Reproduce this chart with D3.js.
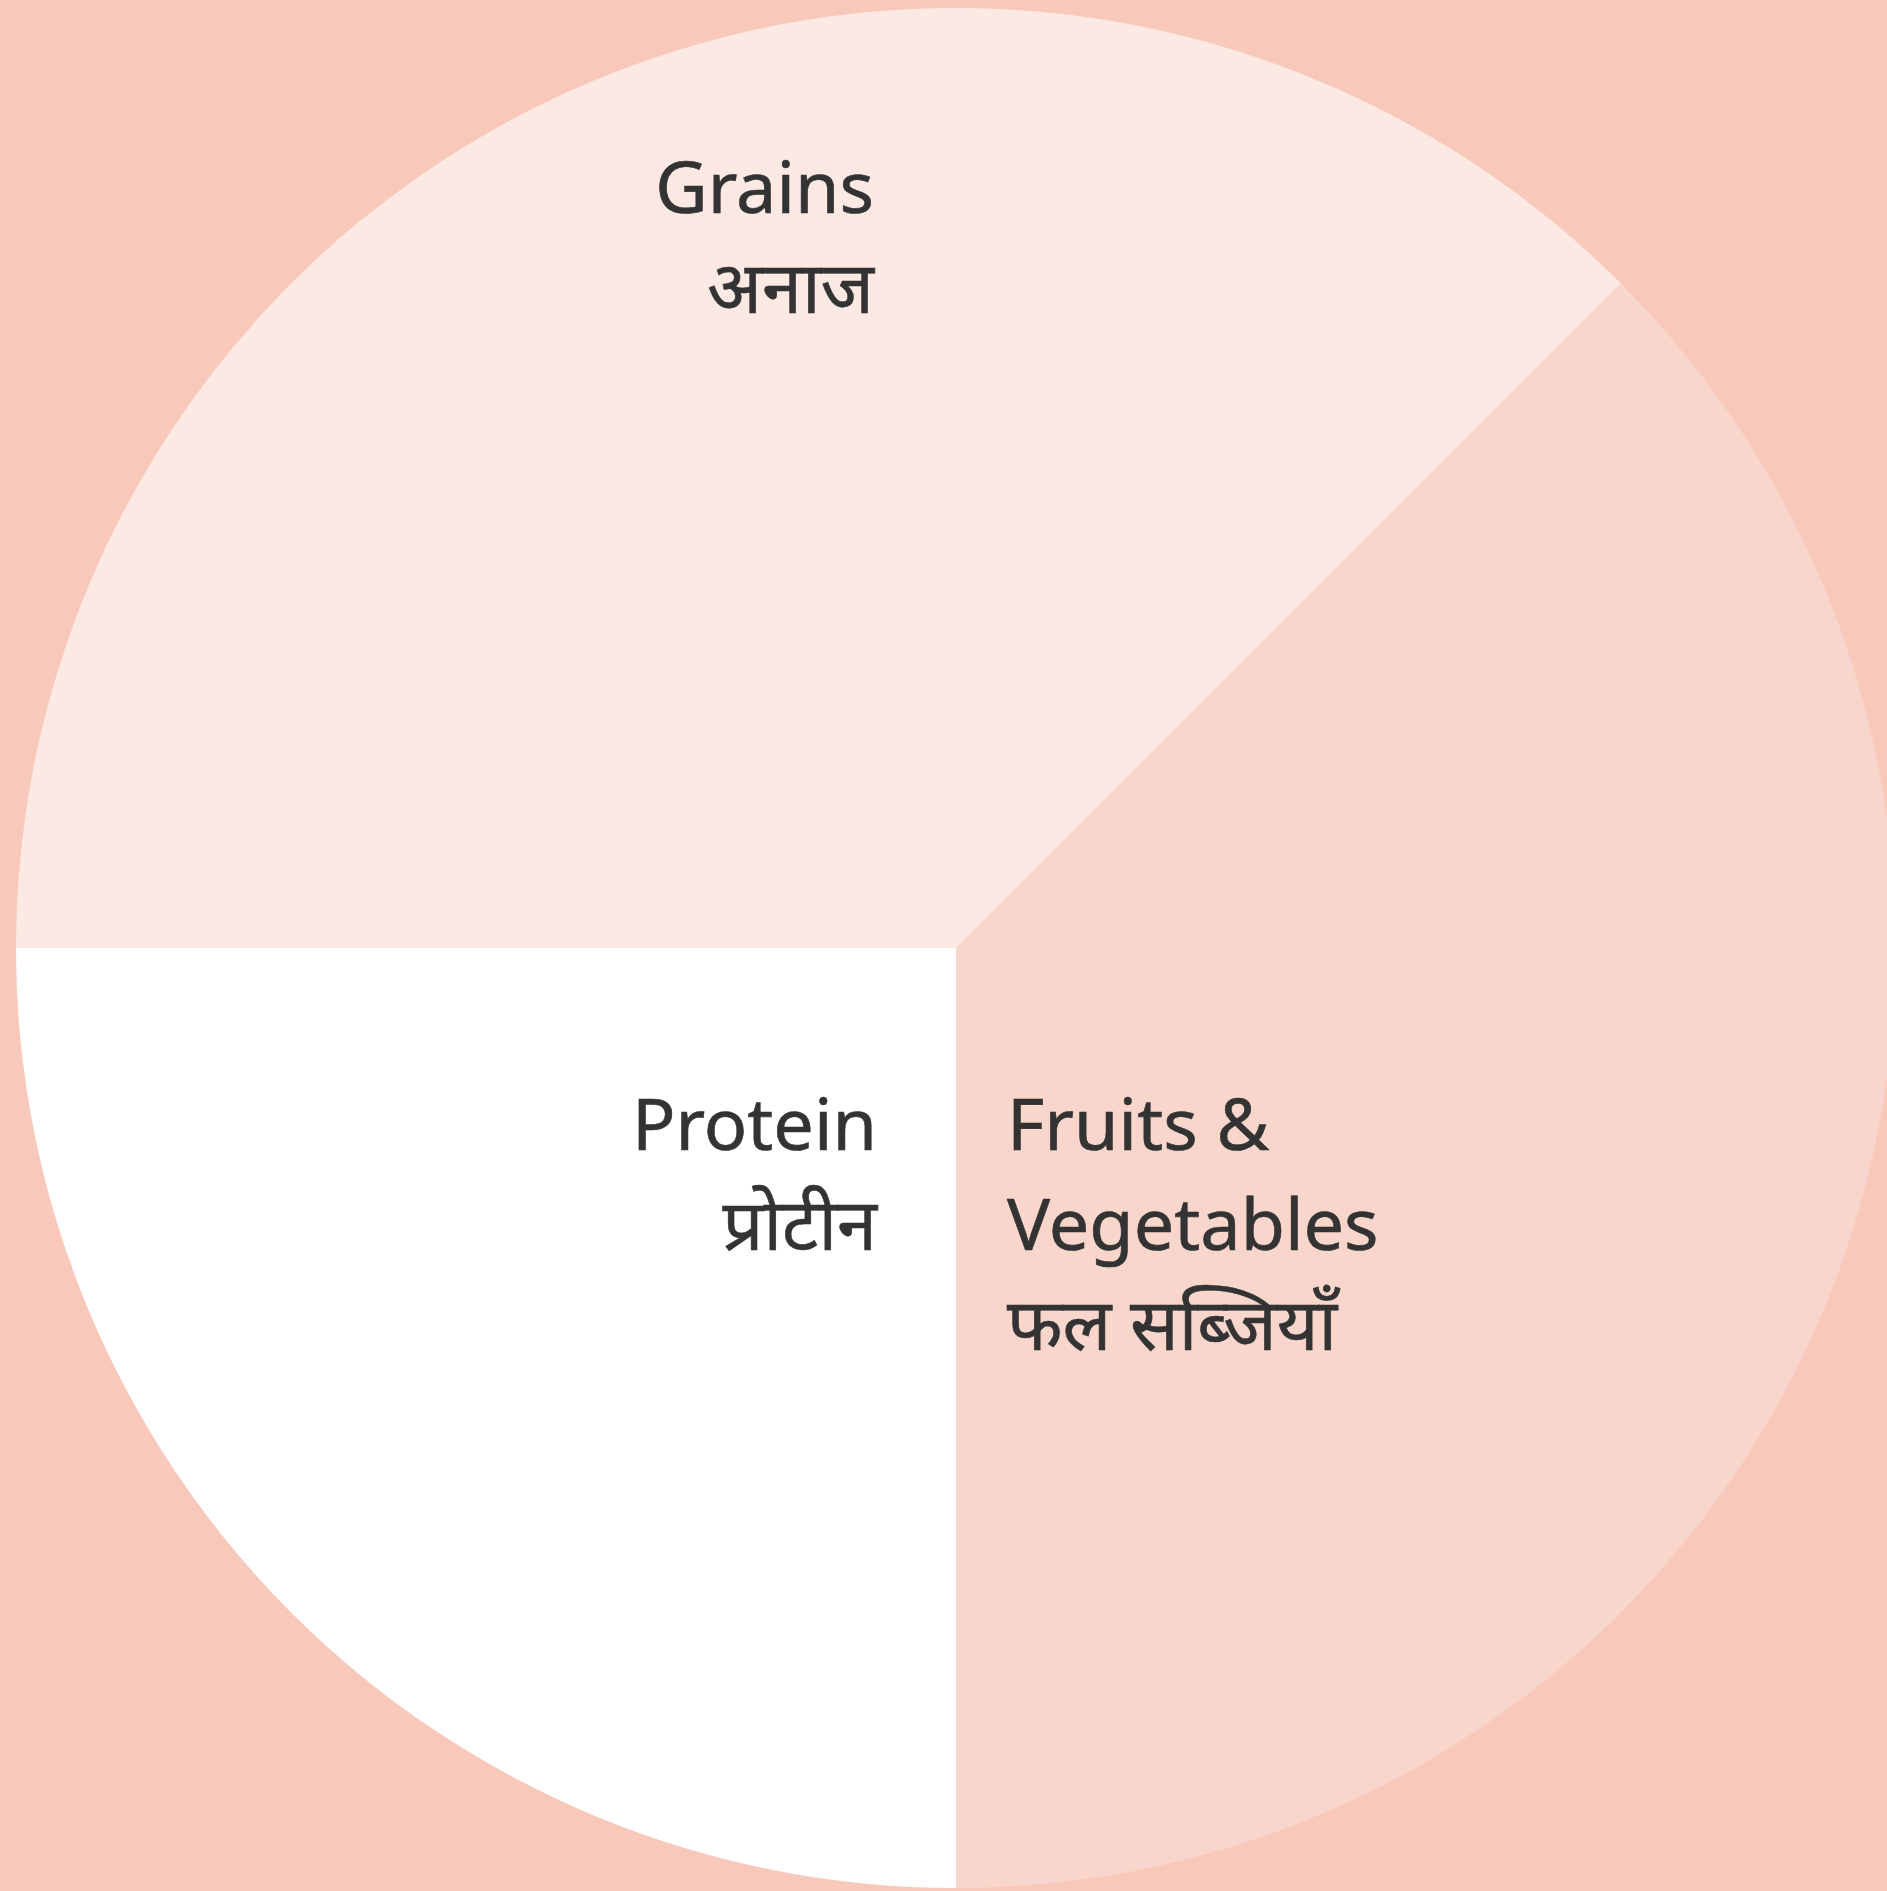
<!DOCTYPE html>
<html><head><meta charset="utf-8">
<script src="https://cdn.jsdelivr.net/npm/d3@7"></script>
<style>html,body{margin:0;padding:0;background:#f8c9bb;overflow:hidden}</style>
</head><body>
<svg id="chart" width="1887" height="1891"></svg>
<script>
const categories = ["Grains", "Fruits & Vegetables", "Protein"];
const values = [37.5, 37.5, 25];
const labelLines = [["Grains", "अनाज"], ["Fruits &", "Vegetables", "फल सब्जियाँ"], ["Protein", "प्रोटीन"]];
const colors = ["#fde9e3", "#f9d6cc", "#ffffff"];

const W = 1887, H = 1891;
const cx = 956, cy = 948, R = 940;
const svg = d3.select("#chart");
svg.append("rect").attr("width", W).attr("height", H).attr("fill", "#f8c9bb");
const g = svg.append("g").attr("transform", `translate(${cx},${cy})`);
const data = categories.map((c, i) => ({c, v: values[i], i}));
const pie = d3.pie().value(d => d.v).sort(null).startAngle(-Math.PI / 2).endAngle(1.5 * Math.PI);
const arc = d3.arc().innerRadius(0).outerRadius(R);
const color = d3.scaleOrdinal().domain(categories).range(colors);
g.selectAll("path").data(pie(data)).join("path")
  .attr("d", arc).attr("fill", d => color(d.data.c));

// label anchors: [x offset, first baseline offset, anchor]
const labelPos = [[-82, -735, "end"], [51, 202, "start"], [-79, 202, "end"]];
const lineH = 100;
data.forEach((d, i) => {
  const [dx, dy, anchor] = labelPos[i];
  const t = g.append("text").attr("text-anchor", anchor)
    .attr("font-family", "'Noto Sans', 'Noto Sans Devanagari', sans-serif")
    .attr("font-size", 72).attr("fill", "#333333")
    .attr("stroke", "#333333").attr("stroke-width", 0.6);
  labelLines[i].forEach((ln, j) => {
    t.append("tspan").attr("x", dx).attr("y", dy + j * lineH).text(ln);
  });
});
</script>
</body></html>
